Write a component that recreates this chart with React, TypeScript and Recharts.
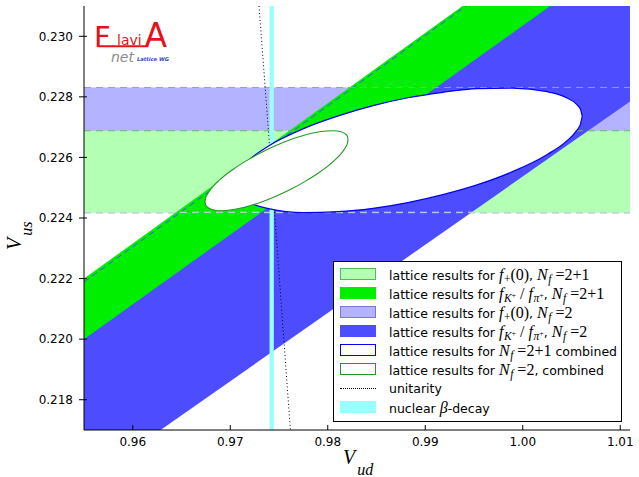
import React from 'react'
import { ComposedChart, Area, Line, XAxis, YAxis, ReferenceArea, ReferenceLine } from 'recharts'

const vudDomain: [number, number] = [0.955, 1.011]
const vusDomain: [number, number] = [0.217, 0.231]
const vudTicks = [0.96, 0.97, 0.98, 0.99, 1.0, 1.01]
const vusTicks = [0.218, 0.22, 0.222, 0.224, 0.226, 0.228, 0.23]

// |Vus| from f+(0), band limits
const fplusNf2 = [0.22419, 0.22831]
const fplusNf21 = [0.22417, 0.22688]

// nuclear beta decay |Vud|
const betaDecay = [0.97403, 0.97447]

// |Vus| band from fK/fpi at both ends of the Vud range: [Vud, low, high]
const fkfpiNf2 = [
  [0.955, 0.21523, 0.22189],
  [1.011, 0.22785, 0.23491],
]
const fkfpiNf21 = [
  [0.955, 0.22, 0.222],
  [1.011, 0.23288, 0.23498],
]
const fkfpiNf2Upper = [
  [0.955, 0.22189],
  [1.011, 0.23491],
]

const unitarity = [
  [0.97295, 0.231],
  [0.97459, 0.224],
  [0.97617, 0.217],
]

// combined fits, outline read along Vud: [Vud, lower Vus, upper Vus]
const combinedNf21 = [
  [0.97036, 0.22512, 0.22512],
  [0.97054, 0.22489, 0.22537],
  [0.97089, 0.22473, 0.22557],
  [0.97215, 0.22448, 0.22598],
  [0.97393, 0.22431, 0.22638],
  [0.97751, 0.22418, 0.22695],
  [0.98108, 0.22421, 0.22737],
  [0.98465, 0.22432, 0.22771],
  [0.98823, 0.22451, 0.22797],
  [0.9918, 0.22477, 0.22815],
  [0.99538, 0.2251, 0.22827],
  [0.99895, 0.22553, 0.22829],
  [1.00252, 0.2261, 0.22817],
  [1.00431, 0.22649, 0.228],
  [1.00556, 0.2269, 0.22774],
  [1.00592, 0.2271, 0.22759],
  [1.0061, 0.22736, 0.22736],
]
const combinedNf2 = [
  [0.96741, 0.22454, 0.22454],
  [0.96748, 0.22443, 0.22467],
  [0.96763, 0.22437, 0.22477],
  [0.96814, 0.22428, 0.22501],
  [0.96888, 0.22424, 0.22525],
  [0.97034, 0.22428, 0.22562],
  [0.97181, 0.22439, 0.22592],
  [0.97328, 0.22454, 0.22618],
  [0.97474, 0.22473, 0.2264],
  [0.97621, 0.22495, 0.22659],
  [0.97768, 0.22521, 0.22674],
  [0.97915, 0.22551, 0.22685],
  [0.98061, 0.22588, 0.22688],
  [0.98135, 0.22612, 0.22685],
  [0.98186, 0.22635, 0.22676],
  [0.98201, 0.22646, 0.2267],
  [0.98208, 0.22659, 0.22659],
]

const band = (rows: number[][]) => rows.map(([v, lo, hi]) => ({ v, r: [lo, hi] }))
const curve = (rows: number[][]) => rows.map(([v, u]) => ({ v, u }))

const SANS = 'DejaVu Sans'
const SERIF = 'Liberation Serif'
const axisLine = { stroke: '#000', strokeWidth: 1 }

function BottomTick({ x, y, payload }: any) {
  return (
    <g>
      <line x1={x} x2={x} y1={y} y2={y - 5} stroke="#000" />
      <text x={x} y={y + 16} textAnchor="middle" fontSize={12} fontFamily={SANS} fill="#000">
        {payload.value.toFixed(2)}
      </text>
    </g>
  )
}
function TopTick({ x, y }: any) {
  return <line x1={x} x2={x} y1={y} y2={y + 4} stroke="#000" />
}
function LeftTick({ x, y, payload }: any) {
  return (
    <g>
      <line x1={x - 5} x2={x + 3} y1={y} y2={y} stroke="#000" />
      <text x={x - 11} y={y + 4.3} textAnchor="end" fontSize={12} fontFamily={SANS} fill="#000">
        {payload.value.toFixed(3)}
      </text>
    </g>
  )
}
function RightTick({ x, y }: any) {
  return <line x1={x} x2={x - 4} y1={y} y2={y} stroke="#000" />
}

const mi = { fontFamily: SERIF, fontStyle: 'italic', fontSize: 16 } as const
const rm = { fontFamily: SERIF, fontSize: 16 } as const
const Sub = ({ children }: any) => (
  <span style={{ fontFamily: SERIF, fontStyle: 'italic', fontSize: 11.5, position: 'relative', top: 3, marginLeft: 0.5 }}>{children}</span>
)
const Sup = ({ children }: any) => (
  <span style={{ fontFamily: SERIF, fontStyle: 'normal', fontSize: 8, position: 'relative', top: -4 }}>{children}</span>
)
const Nf = ({ n }: { n: string }) => (
  <>
    <span style={mi}>N</span>
    <Sub>f</Sub>
    <span style={rm}> ={n}</span>
  </>
)
const fplus = (
  <>
    <span style={mi}>f</span>
    <Sub><span style={{ fontStyle: 'normal' }}>+</span></Sub>
    <span style={rm}>(0)</span>
  </>
)
const fkfpi = (
  <>
    <span style={mi}>f</span>
    <Sub>K<Sup>+</Sup></Sub>
    <span style={rm}> / </span>
    <span style={mi}>f</span>
    <Sub>π<Sup>+</Sup></Sub>
  </>
)

const legendRows = [
  { fill: '#b3ffb3', stroke: '#55bb55', label: <>lattice results for {fplus}, <Nf n="2+1" /></> },
  { fill: '#00ee00', stroke: '#00ee00', label: <>lattice results for {fkfpi}, <Nf n="2+1" /></> },
  { fill: '#b3b3ff', stroke: '#7777dd', label: <>lattice results for {fplus}, <Nf n="2" /></> },
  { fill: '#4d4dff', stroke: '#4d4dff', label: <>lattice results for {fkfpi}, <Nf n="2" /></> },
  { fill: '#fff', stroke: '#0000ee', label: <>lattice results for <Nf n="2+1" /> combined</> },
  { fill: '#fff', stroke: '#229922', label: <>lattice results for <Nf n="2" />, combined</> },
  { dotted: true, label: <>unitarity</> },
  { fill: '#99ffff', stroke: '#99ffff', label: <>nuclear <span style={mi}>β</span>-decay</> },
]

function LegendBox() {
  return (
    <div
      style={{
        position: 'absolute', left: 333, top: 261, width: 289, height: 161, boxSizing: 'border-box',
        border: '1px solid #000', background: '#fff', fontFamily: SANS, fontSize: 12.5, color: '#000',
      }}
    >
      {legendRows.map((row: any, i) => (
        <React.Fragment key={i}>
          {row.dotted ? (
            <div style={{ position: 'absolute', left: 6, top: 11.5 + 19 * i, width: 36, borderTop: '1px dotted #000' }} />
          ) : (
            <div
              style={{
                position: 'absolute', left: 6, top: 6 + 19 * i, width: 36, height: 12, boxSizing: 'border-box',
                background: row.fill, border: `1px solid ${row.stroke}`,
              }}
            />
          )}
          <div style={{ position: 'absolute', left: 55, top: 2.5 + 19 * i, height: 19, lineHeight: '19px', whiteSpace: 'nowrap' }}>
            {row.label}
          </div>
        </React.Fragment>
      ))}
    </div>
  )
}

function Overlay() {
  return (
    <svg width={639} height={477} style={{ position: 'absolute', left: 0, top: 0, pointerEvents: 'none' }}>
      {/* logo */}
      <text x={94} y={47.3} fill="#e3131b" fontSize={29} fontFamily={SANS}>F</text>
      <text x={117} y={45} fill="#e3131b" fontSize={14} fontFamily={SANS}>lavi</text>
      <text x={144.5} y={47.3} fill="#e3131b" fontSize={33} fontFamily={SANS}>A</text>
      <line x1={98} x2={148} y1={46.3} y2={46.3} stroke="#e3131b" strokeWidth={2} />
      <text x={111} y={61.5} fill="#8c8c8c" fontSize={14} fontStyle="italic" fontFamily={SANS}>net</text>
      <text x={137} y={60.5} fill="#3344cc" fontSize={5.2} fontWeight="bold" fontStyle="italic" fontFamily={SANS}>Lattice WG</text>
      {/* axis labels */}
      <text x={343} y={464} fontFamily={SERIF} fontStyle="italic" fontSize={20} fill="#000">
        V<tspan fontSize={16} dx={2} dy={10.5}>ud</tspan>
      </text>
      <text transform="translate(21,250) rotate(-90)" fontFamily={SERIF} fontStyle="italic" fontSize={20} fill="#000">
        V<tspan fontSize={16} dx={2} dy={10.5}>us</tspan>
      </text>
    </svg>
  )
}

export default function App() {
  return (
    <div style={{ position: 'absolute', left: 0, top: 0, width: 639, height: 477, background: '#fff' }}>
      <ComposedChart width={639} height={477} margin={{ top: 6, right: 9, bottom: 0, left: 0 }}>
        <XAxis type="number" dataKey="v" domain={vudDomain} ticks={vudTicks} allowDataOverflow interval={0}
          height={47} tickSize={0} tickMargin={0} tickLine={false} axisLine={axisLine} tick={BottomTick} />
        <XAxis xAxisId="top" orientation="top" type="number" dataKey="v" domain={vudDomain} ticks={vudTicks}
          allowDataOverflow interval={0} height={0} tickSize={0} tickMargin={0} tickLine={false} axisLine={axisLine} tick={TopTick} />
        <YAxis type="number" domain={vusDomain} ticks={vusTicks} allowDataOverflow interval={0}
          width={84} tickSize={0} tickMargin={0} tickLine={false} axisLine={axisLine} tick={LeftTick} />
        <YAxis yAxisId="right" orientation="right" type="number" domain={vusDomain} ticks={vusTicks} allowDataOverflow
          interval={0} width={0} tickSize={0} tickMargin={0} tickLine={false} axisLine={axisLine} tick={RightTick} />

        <ReferenceArea y1={fplusNf2[0]} y2={fplusNf2[1]} fill="#b3b3ff" fillOpacity={1} stroke="none" zIndex={10} />
        <ReferenceArea y1={fplusNf21[0]} y2={fplusNf21[1]} fill="#b3ffb3" fillOpacity={1} stroke="none" zIndex={11} />

        <Area data={band(fkfpiNf2)} dataKey="r" type="linear" fill="#4d4dff" fillOpacity={1} stroke="none"
          dot={false} activeDot={false} isAnimationActive={false} zIndex={20} />
        <Area data={band(fkfpiNf21)} dataKey="r" type="linear" fill="#00ee00" fillOpacity={1} stroke="none"
          dot={false} activeDot={false} isAnimationActive={false} zIndex={21} />
        <Line data={curve(fkfpiNf2Upper)} dataKey="u" type="linear" stroke="#4d4dff" strokeWidth={1}
          strokeDasharray="6 4" dot={false} activeDot={false} isAnimationActive={false} zIndex={22} />

        <ReferenceLine y={fplusNf21[1]} stroke="#66bb66" strokeDasharray="7 5" zIndex={23} />
        <ReferenceLine y={fplusNf21[0]} stroke="#66bb66" strokeDasharray="7 5" zIndex={23} />
        <ReferenceLine y={fplusNf2[1]} stroke="#9494f0" strokeDasharray="7 5" zIndex={23} />
        <ReferenceLine y={fplusNf2[0]} stroke="#d4d4ff" strokeDasharray="7 5" zIndex={23} />

        <ReferenceArea x1={betaDecay[0]} x2={betaDecay[1]} fill="#99ffff" fillOpacity={1} stroke="none" zIndex={24} />
        <Line data={curve(unitarity)} dataKey="u" type="linear" stroke="#000" strokeWidth={1}
          strokeDasharray="1 2.5" dot={false} activeDot={false} isAnimationActive={false} zIndex={25} />

        <Area data={band(combinedNf21)} dataKey="r" type="monotone" fill="#fff" fillOpacity={1} stroke="#0000ee"
          strokeWidth={1.2} dot={false} activeDot={false} isAnimationActive={false} zIndex={30} />
        <Area data={band(combinedNf2)} dataKey="r" type="monotone" fill="#fff" fillOpacity={1} stroke="#229922"
          strokeWidth={1.1} dot={false} activeDot={false} isAnimationActive={false} zIndex={31} />
      </ComposedChart>
      <Overlay />
      <LegendBox />
    </div>
  )
}
